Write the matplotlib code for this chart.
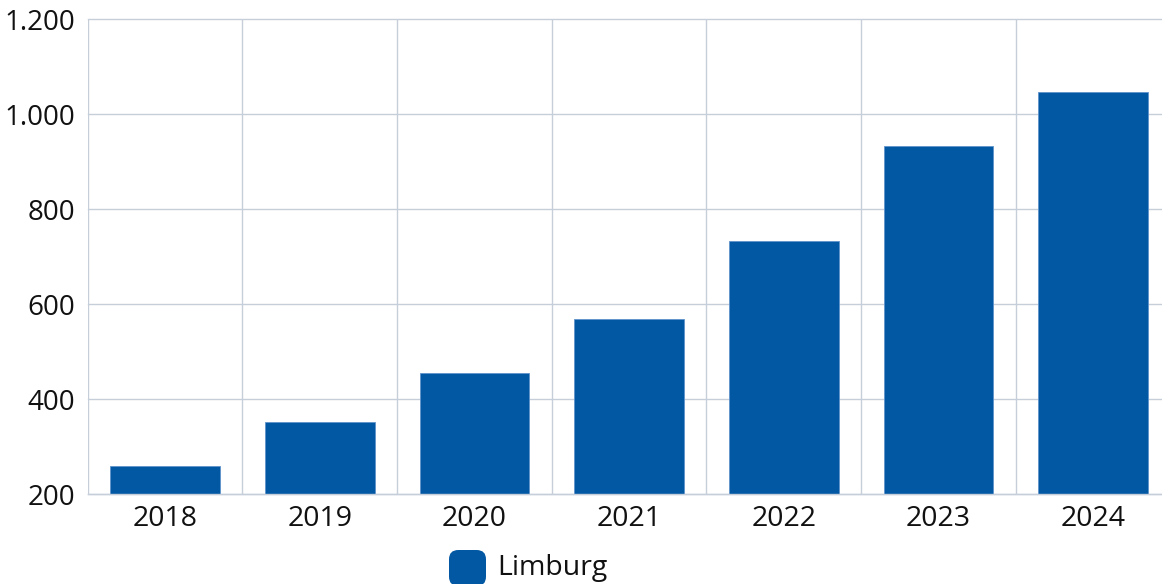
import matplotlib
matplotlib.use("Agg")
import matplotlib.pyplot as plt
from matplotlib.patches import FancyBboxPatch
from matplotlib.ticker import FuncFormatter, FixedLocator

years = ["2018", "2019", "2020", "2021", "2022", "2023", "2024"]
values = [260, 353, 456, 568, 734, 933, 1046]
series_name = "Limburg"
y_ticks = [200, 400, 600, 800, 1000, 1200]

plt.rcParams['font.family'] = ['Open Sans', 'DejaVu Sans']

W, H = 1162, 584
fig = plt.figure(figsize=(W / 100, H / 100), dpi=100)
ax = fig.add_axes([87.7 / W, (H - 494.3) / H, (1170.6 - 87.7) / W, (494.3 - 19.3) / H])

bar_color = '#0358A3'
grid_color = '#c6ced9'
x = list(range(len(years)))
ax.bar(x, values, width=0.71, color=bar_color, edgecolor='#5f93cc', linewidth=0.6, zorder=3)

ax.set_xlim(-0.5, len(years) - 0.5)
ax.set_ylim(200, 1200)
ax.set_yticks(y_ticks)
ax.yaxis.set_major_formatter(FuncFormatter(lambda v, p: f"{int(v):,}".replace(",", ".")))
ax.set_xticks(x)
ax.set_xticklabels(years)
ax.xaxis.set_minor_locator(FixedLocator([i - 0.5 for i in range(len(years) + 1)]))

ax.grid(axis='y', which='major', color=grid_color, linewidth=1, zorder=0)
ax.grid(axis='x', which='minor', color=grid_color, linewidth=1, zorder=0)
ax.grid(axis='x', which='major', visible=False)
for gl in ax.get_ygridlines() + ax.xaxis.get_minorticklines():
    gl.set_clip_on(False)
for s in ax.spines.values():
    s.set_visible(False)
ax.spines['bottom'].set_visible(True)
ax.spines['bottom'].set_color(grid_color)
ax.spines['bottom'].set_linewidth(1)
ax.spines['bottom'].set_zorder(4)
ax.tick_params(axis='both', which='both', length=0)
ax.tick_params(axis='y', labelsize=20, pad=9, colors='#111111')
ax.tick_params(axis='x', labelsize=20.5, pad=8, colors='#111111')

# legend
patch = FancyBboxPatch((449 / W, (H - 586) / H), 37 / W, 36 / H,
                       boxstyle="round,pad=0,rounding_size=0.008",
                       transform=fig.transFigure, facecolor=bar_color, edgecolor='none',
                       mutation_aspect=W / H)
fig.patches.append(patch)
fig.text(497 / W, (H - 568) / H, series_name, fontsize=20.5, color='#111111',
         ha='left', va='center')

fig.savefig("out.png", dpi=100)
